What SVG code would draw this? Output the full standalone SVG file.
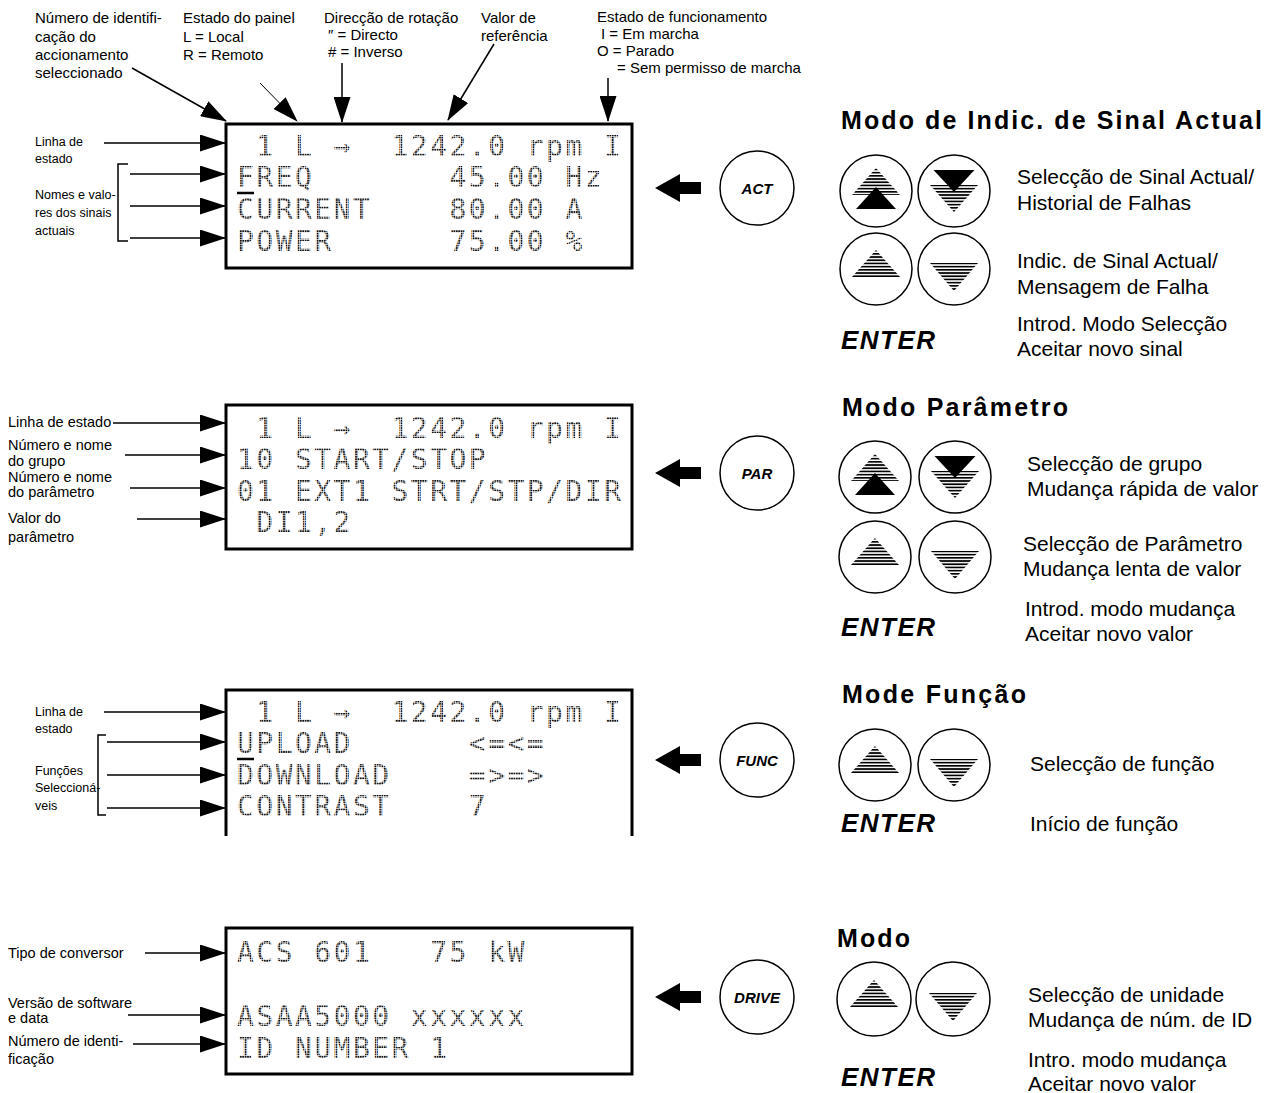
<svg xmlns="http://www.w3.org/2000/svg" xmlns:xlink="http://www.w3.org/1999/xlink" width="1270" height="1093" viewBox="0 0 1270 1093">
<style>
.lbl{font-family:"Liberation Sans",Arial,sans-serif;font-size:15px;fill:#000}
.lbs{font-family:"Liberation Sans",Arial,sans-serif;font-size:12.5px;fill:#000}
.lbl2{font-family:"Liberation Sans",Arial,sans-serif;font-size:14.5px;fill:#000}
.key{font-family:"Liberation Sans",Arial,sans-serif;font-size:21px;fill:#000}
.head{font-family:"Liberation Sans",Arial,sans-serif;font-size:25px;font-weight:bold;fill:#000}
.enter{font-family:"Liberation Sans",Arial,sans-serif;font-size:26px;font-weight:bold;font-style:italic;letter-spacing:1.5px;fill:#000}
.btn{font-family:"Liberation Sans",Arial,sans-serif;font-size:15px;font-weight:bold;font-style:italic;fill:#000;text-anchor:middle}
.lcd{font-family:"DejaVu Sans Mono","Liberation Mono",monospace;font-size:28px;letter-spacing:2.46px;fill:url(#dots);white-space:pre}
.box{fill:none;stroke:#000;stroke-width:3}
.ln{fill:none;stroke:#000;stroke-width:1.5}
.circ{fill:#fff;stroke:#000;stroke-width:1.5}
</style>
<defs>
<marker id="ah" markerUnits="userSpaceOnUse" markerWidth="26" markerHeight="17" refX="25" refY="8.5" orient="auto">
<path d="M0,0 L26,8.5 L0,17 z" fill="#000"/>
</marker>
<pattern id="hatch" patternUnits="userSpaceOnUse" width="8" height="3.2">
<rect width="8" height="1.7" fill="#000"/>
</pattern>
<pattern id="dots" patternUnits="userSpaceOnUse" width="2.4" height="2.4">
<rect width="1.8" height="1.8" fill="#111"/>
</pattern>
<g id="upDouble">
<path d="M0,-23 L24,4 L-24,4 z" fill="url(#hatch)"/>
<path d="M0,-4 L20,18 L-20,18 z" fill="#000"/>
</g>
<g id="downDouble">
<path d="M-24,-6 L24,-6 L0,21 z" fill="url(#hatch)"/>
<path d="M-20.5,-21 L20.5,-21 L0,1 z" fill="#000"/>
</g>
<g id="upSingle">
<path d="M0,-19 L24,8 L-24,8 z" fill="url(#hatch)"/>
</g>
<g id="downSingle">
<path d="M-24,-6 L24,-6 L0,22 z" fill="url(#hatch)"/>
</g>
<path id="blk" d="M0,0 L25,-14 L25,-6 L46,-6 L46,6 L25,6 L25,14 z" fill="#000"/>
</defs>

<!-- Top annotations -->
<g id="top-labels">
<text class="lbl" x="35" y="23">Número de identifi-</text>
<text class="lbl" x="35" y="41.5">cação do</text>
<text class="lbl" x="35" y="60">accionamento</text>
<text class="lbl" x="35" y="78">seleccionado</text>
<text class="lbl" x="183" y="23">Estado do painel</text>
<text class="lbl" x="183" y="41.5">L = Local</text>
<text class="lbl" x="183" y="59.5">R = Remoto</text>
<text class="lbl" x="324" y="23">Direcção de rotação</text>
<text class="lbl" x="328" y="40">″ = Directo</text>
<text class="lbl" x="328" y="57">#  = Inverso</text>
<text class="lbl" x="481" y="23">Valor de</text>
<text class="lbl" x="481" y="41">referência</text>
<text class="lbl" x="597" y="22">Estado de funcionamento</text>
<text class="lbl" x="601" y="39">I  = Em marcha</text>
<text class="lbl" x="597" y="56">O = Parado</text>
<text class="lbl" x="617" y="73">= Sem permisso de marcha</text>
</g>

<!-- Display 1 -->
<g id="display-act">
<rect class="box" x="226" y="124" width="406" height="144"/>
<text class="lcd" x="237" y="156"> 1 L →  1242.0 rpm I</text>
<text class="lcd" x="237" y="187">FREQ       45.00 Hz</text>
<text class="lcd" x="237" y="219">CURRENT    80.00 A</text>
<text class="lcd" x="237" y="251">POWER      75.00 %</text>
<line x1="237" y1="193" x2="254" y2="193" stroke="#000" stroke-width="2.5"/>
</g>
<g id="labels-act">
<text class="lbs" x="35" y="146">Linha de</text>
<text class="lbs" x="35" y="163">estado</text>
<text class="lbs" x="35" y="199">Nomes e valo-</text>
<text class="lbs" x="35" y="217">res dos sinais</text>
<text class="lbs" x="35" y="235">actuais</text>
</g>

<!-- Display 2 -->
<g id="display-par">
<rect class="box" x="226" y="405" width="406" height="144"/>
<text class="lcd" x="237" y="438"> 1 L →  1242.0 rpm I</text>
<text class="lcd" x="237" y="469">10 START/STOP</text>
<text class="lcd" x="237" y="501">01 EXT1 STRT/STP/DIR</text>
<text class="lcd" x="237" y="532"> DI1,2</text>
</g>
<g id="labels-par">
<text class="lbl2" x="8" y="427">Linha de estado</text>
<text class="lbl2" x="8" y="450">Número e nome</text>
<text class="lbl2" x="8" y="466">do grupo</text>
<text class="lbl2" x="8" y="482">Número e nome</text>
<text class="lbl2" x="8" y="497">do parâmetro</text>
<text class="lbl2" x="8" y="523">Valor do</text>
<text class="lbl2" x="8" y="542">parâmetro</text>
</g>

<!-- Display 3 -->
<g id="display-func">
<path class="box" d="M226,836 L226,690 L632,690 L632,836"/>
<text class="lcd" x="237" y="722"> 1 L →  1242.0 rpm I</text>
<text class="lcd" x="237" y="753">UPLOAD      &lt;=&lt;=</text>
<text class="lcd" x="237" y="785">DOWNLOAD    =&gt;=&gt;</text>
<text class="lcd" x="237" y="816">CONTRAST    7</text>
<line x1="237" y1="759" x2="254" y2="759" stroke="#000" stroke-width="2.5"/>
</g>
<g id="labels-func">
<text class="lbs" x="35" y="716">Linha de</text>
<text class="lbs" x="35" y="733">estado</text>
<text class="lbs" x="35" y="775">Funções</text>
<text class="lbs" x="35" y="792">Seleccioná-</text>
<text class="lbs" x="35" y="810">veis</text>
</g>

<!-- Display 4 -->
<g id="display-drive">
<rect class="box" x="226" y="928" width="406" height="146"/>
<text class="lcd" x="237" y="962">ACS 601   75 kW</text>
<text class="lcd" x="237" y="1026">ASAA5000 xxxxxx</text>
<text class="lcd" x="237" y="1058">ID NUMBER 1</text>
</g>
<g id="labels-drive">
<text class="lbl2" x="8" y="958">Tipo de conversor</text>
<text class="lbl2" x="8" y="1008">Versão de software</text>
<text class="lbl2" x="8" y="1023">e data</text>
<text class="lbl2" x="8" y="1046">Número de identi-</text>
<text class="lbl2" x="8" y="1064">ficação</text>
</g>

<!-- Connectors -->
<g id="connectors">
<line class="ln" x1="132" y1="68" x2="226" y2="121" marker-end="url(#ah)"/>
<line x1="260" y1="83" x2="297" y2="121" stroke="#000" stroke-width="1" marker-end="url(#ah)"/>
<line class="ln" x1="342" y1="63" x2="342" y2="122" marker-end="url(#ah)"/>
<line class="ln" x1="494" y1="44" x2="448" y2="120" marker-end="url(#ah)"/>
<line class="ln" x1="608" y1="78" x2="608" y2="121" marker-end="url(#ah)"/>

<line class="ln" x1="104" y1="143" x2="225" y2="143" marker-end="url(#ah)"/>
<path class="ln" d="M128,164 L118,164 L118,241 L128,241"/>
<line class="ln" x1="130" y1="174" x2="225" y2="174" marker-end="url(#ah)"/>
<line class="ln" x1="130" y1="206" x2="225" y2="206" marker-end="url(#ah)"/>
<line class="ln" x1="130" y1="238" x2="225" y2="238" marker-end="url(#ah)"/>

<line class="ln" x1="113" y1="423" x2="225" y2="423" marker-end="url(#ah)"/>
<line class="ln" x1="125" y1="455" x2="225" y2="455" marker-end="url(#ah)"/>
<line class="ln" x1="130" y1="488" x2="225" y2="488" marker-end="url(#ah)"/>
<line class="ln" x1="137" y1="519" x2="225" y2="519" marker-end="url(#ah)"/>

<line class="ln" x1="104" y1="712" x2="225" y2="712" marker-end="url(#ah)"/>
<path class="ln" d="M106,735 L98,735 L98,815 L106,815"/>
<line class="ln" x1="107" y1="742" x2="225" y2="742" marker-end="url(#ah)"/>
<line class="ln" x1="107" y1="775" x2="225" y2="775" marker-end="url(#ah)"/>
<line class="ln" x1="107" y1="808" x2="225" y2="808" marker-end="url(#ah)"/>

<line class="ln" x1="145" y1="953" x2="225" y2="953" marker-end="url(#ah)"/>
<line class="ln" x1="128" y1="1015" x2="225" y2="1015" marker-end="url(#ah)"/>
<line class="ln" x1="133" y1="1044" x2="225" y2="1044" marker-end="url(#ah)"/>

<use xlink:href="#blk" x="655" y="188"/>
<use xlink:href="#blk" x="655" y="473"/>
<use xlink:href="#blk" x="655" y="760"/>
<use xlink:href="#blk" x="655" y="997"/>
</g>

<!-- Mode buttons -->
<g id="btn-act"><circle class="circ" cx="757" cy="188" r="37"/><text class="btn" x="757" y="194">ACT</text></g>
<g id="btn-par"><circle class="circ" cx="757" cy="473" r="37"/><text class="btn" x="757" y="479">PAR</text></g>
<g id="btn-func"><circle class="circ" cx="757" cy="760" r="37"/><text class="btn" x="757" y="766">FUNC</text></g>
<g id="btn-drive"><circle class="circ" cx="757" cy="997" r="37"/><text class="btn" x="757" y="1003">DRIVE</text></g>

<!-- Section 1 -->
<g id="mode-act">
<text class="head" x="841" y="129" textLength="421" lengthAdjust="spacing">Modo de Indic. de Sinal Actual</text>
<circle class="circ" cx="876" cy="191" r="36"/><use xlink:href="#upDouble" x="876" y="191"/>
<circle class="circ" cx="954" cy="191" r="36"/><use xlink:href="#downDouble" x="954" y="191"/>
<circle class="circ" cx="876" cy="269" r="36"/><use xlink:href="#upSingle" x="876" y="269"/>
<circle class="circ" cx="954" cy="269" r="36"/><use xlink:href="#downSingle" x="954" y="269"/>
<text class="enter" x="841" y="349">ENTER</text>
<text class="key" x="1017" y="184">Selecção de Sinal Actual/</text>
<text class="key" x="1017" y="210">Historial de Falhas</text>
<text class="key" x="1017" y="268">Indic. de Sinal Actual/</text>
<text class="key" x="1017" y="294">Mensagem de Falha</text>
<text class="key" x="1017" y="331">Introd. Modo Selecção</text>
<text class="key" x="1017" y="356">Aceitar novo sinal</text>
</g>

<!-- Section 2 -->
<g id="mode-par">
<text class="head" x="842" y="416" textLength="226" lengthAdjust="spacing">Modo Parâmetro</text>
<circle class="circ" cx="875" cy="477" r="36"/><use xlink:href="#upDouble" x="875" y="477"/>
<circle class="circ" cx="955" cy="477" r="36"/><use xlink:href="#downDouble" x="955" y="477"/>
<circle class="circ" cx="875" cy="557" r="36"/><use xlink:href="#upSingle" x="875" y="557"/>
<circle class="circ" cx="955" cy="557" r="36"/><use xlink:href="#downSingle" x="955" y="557"/>
<text class="enter" x="841" y="636">ENTER</text>
<text class="key" x="1027" y="471">Selecção de grupo</text>
<text class="key" x="1027" y="496">Mudança rápida de valor</text>
<text class="key" x="1023" y="551">Selecção de Parâmetro</text>
<text class="key" x="1023" y="576">Mudança lenta de valor</text>
<text class="key" x="1025" y="616">Introd. modo mudança</text>
<text class="key" x="1025" y="641">Aceitar novo valor</text>
</g>

<!-- Section 3 -->
<g id="mode-func">
<text class="head" x="842" y="703" textLength="184" lengthAdjust="spacing">Mode Função</text>
<circle class="circ" cx="875" cy="765" r="36"/><use xlink:href="#upSingle" x="875" y="765"/>
<circle class="circ" cx="954" cy="765" r="36"/><use xlink:href="#downSingle" x="954" y="765"/>
<text class="enter" x="841" y="832">ENTER</text>
<text class="key" x="1030" y="771">Selecção de função</text>
<text class="key" x="1030" y="831">Início de função</text>
</g>

<!-- Section 4 -->
<g id="mode-drive">
<text class="head" x="837" y="947" textLength="73" lengthAdjust="spacing">Modo</text>
<circle class="circ" cx="874" cy="999" r="37"/><use xlink:href="#upSingle" x="874" y="999"/>
<circle class="circ" cx="953" cy="999" r="37"/><use xlink:href="#downSingle" x="953" y="999"/>
<text class="enter" x="841" y="1086">ENTER</text>
<text class="key" x="1028" y="1002">Selecção de unidade</text>
<text class="key" x="1028" y="1027">Mudança de núm. de ID</text>
<text class="key" x="1028" y="1067">Intro. modo mudança</text>
<text class="key" x="1028" y="1091">Aceitar novo valor</text>
</g>
</svg>
